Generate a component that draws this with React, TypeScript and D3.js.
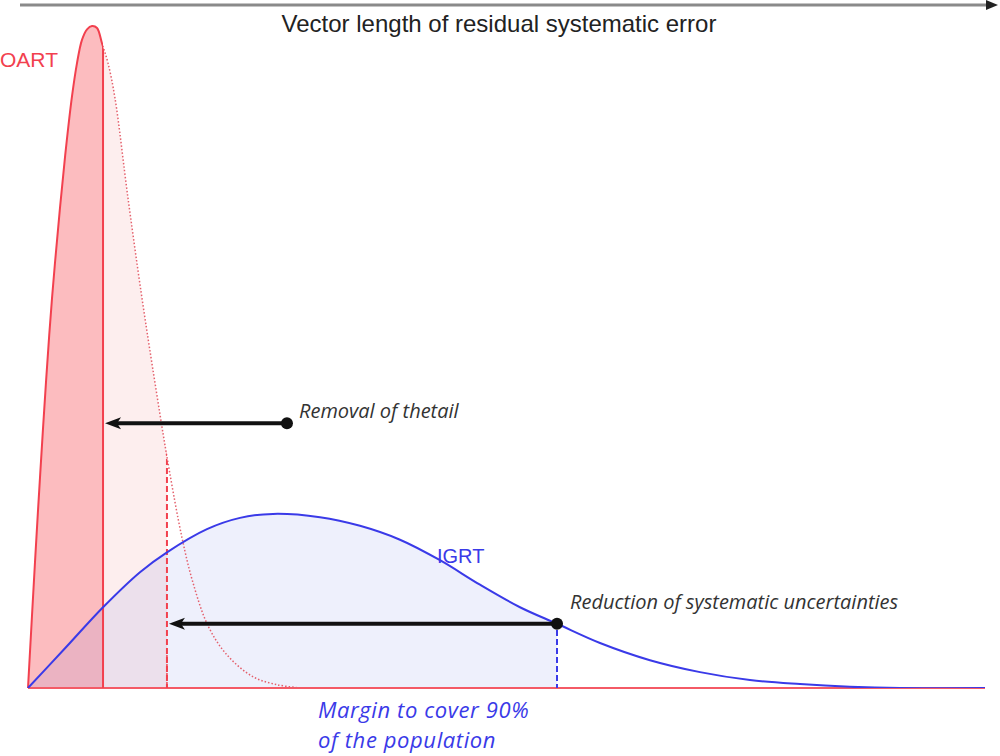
import React from "react";
import * as d3 from "d3";

// OART distribution (vector length units, relative density)
const oartX = [0, 0.073, 0.125, 0.188, 0.251, 0.334, 0.397, 0.460, 0.512, 0.564, 0.617, 0.669, 0.721, 0.773, 0.836, 0.909, 1.045, 1.191, 1.327, 1.463, 1.609, 1.724, 1.881, 2.079, 2.351, 2.602, 2.842];
const oartY = [0, 0.190, 0.317, 0.462, 0.589, 0.725, 0.816, 0.894, 0.944, 0.979, 0.995, 1.0, 0.997, 0.974, 0.944, 0.891, 0.740, 0.589, 0.461, 0.340, 0.227, 0.159, 0.094, 0.050, 0.017, 0.005, 0];
// IGRT distribution
const igrtX = [0, 0.387, 0.784, 1.170, 1.452, 1.870, 2.215, 2.560, 3.051, 3.469, 3.887, 4.305, 4.723, 5.141, 5.528, 5.977, 6.499, 7.022, 7.544, 8.067, 8.589, 9.112, 10];
const igrtY = [0, 0.060, 0.122, 0.175, 0.205, 0.240, 0.257, 0.263, 0.258, 0.245, 0.224, 0.193, 0.156, 0.122, 0.097, 0.068, 0.042, 0.024, 0.012, 0.006, 0.002, 0, 0];

const oartCut = 0.784; // removal of the tail
const oartMargin = 1.452; // 90% margin OART
const igrtMargin = 5.528; // 90% margin IGRT
const removalDot = [2.706, 0.4];

const labels = {
  axis: "Vector length of residual systematic error",
  oart: "OART",
  igrt: "IGRT",
  removal: "Removal of thetail",
  reduction: "Reduction of systematic uncertainties",
  margin1: "Margin to cover 90%",
  margin2: "of the population",
};

export default function App() {
  const W = 1000, H = 756;
  const x = d3.scaleLinear().domain([0, 10]).range([28, 985]);
  const y = d3.scaleLinear().domain([0, 1]).range([688, 26]);

  const oart = oartX.map((v, i) => [v, oartY[i]] as [number, number]);
  const igrt = igrtX.map((v, i) => [v, igrtY[i]] as [number, number]);

  const curve = d3.curveCatmullRom.alpha(0.5);
  const line = d3.line<[number, number]>().x(d => x(d[0])).y(d => y(d[1])).curve(curve);
  const area = d3.area<[number, number]>().x(d => x(d[0])).y0(y(0)).y1(d => y(d[1])).curve(curve);

  const oartLine = line(oart) as string;
  const oartArea = area(oart) as string;
  const igrtLine = line(igrt) as string;
  const igrtArea = area(igrt) as string;

  const red = "#f2404e";
  const blue = "#3a3ae8";
  const sans = "'Liberation Sans', Arial, sans-serif";
  const ital = "'Open Sans', sans-serif";

  const arrowY1 = y(removalDot[1]);
  const arrowY2 = y(igrtY[igrtX.indexOf(igrtMargin)]);

  return (
    <svg width={W} height={H} style={{ position: "absolute", left: 0, top: 0, background: "#fff" }}>
      <defs>
        <clipPath id="cRed"><rect x={0} y={0} width={x(oartCut)} height={H} /></clipPath>
        <clipPath id="cPink"><rect x={x(oartCut)} y={0} width={x(oartMargin) - x(oartCut)} height={H} /></clipPath>
        <clipPath id="cBlue"><rect x={0} y={0} width={x(igrtMargin)} height={H} /></clipPath>
        <clipPath id="cTail"><rect x={x(oartCut)} y={0} width={W} height={H} /></clipPath>
        <clipPath id="cRedArea"><path d={oartArea} /></clipPath>
        <clipPath id="cBlueArea"><path d={igrtArea} /></clipPath>
        <clipPath id="cPlot"><rect x={0} y={0} width={W} height={y(0)} /></clipPath>
      </defs>

      {/* top axis arrow */}
      <line x1={20} x2={988} y1={5} y2={5} stroke="#8a8a8a" strokeWidth={3} />
      <path d={`M986,0 L998,5 L986,10 Z`} fill="#222" />
      <text x={499} y={32} textAnchor="middle" fontFamily={sans} fontSize={24} fill="#222">{labels.axis}</text>

      {/* fills */}
      <g clipPath="url(#cPlot)">
        <path d={oartArea} fill="#fcbcbf" clipPath="url(#cRed)" />
        <path d={oartArea} fill="#fdeeee" clipPath="url(#cPink)" />
        <path d={igrtArea} fill="rgba(85,105,225,0.1)" clipPath="url(#cBlue)" />
      </g>

      {/* baseline */}
      <line x1={x(0)} x2={x(10)} y1={y(0)} y2={y(0)} stroke="#f45a66" strokeWidth={2} />

      {/* OART curve */}
      <g clipPath="url(#cPlot)">
        <path d={oartLine} fill="none" stroke={red} strokeWidth={2} clipPath="url(#cRed)" />
      </g>
      <g clipPath="url(#cPlot)">
        <path d={oartLine} fill="none" stroke="#e4606c" strokeWidth={1.5} strokeDasharray="1.5 2" clipPath="url(#cTail)" />
      </g>
      <g clipPath="url(#cRedArea)">
        <line x1={x(oartCut)} x2={x(oartCut)} y1={0} y2={y(0)} stroke={red} strokeWidth={2} />
        <line x1={x(oartMargin)} x2={x(oartMargin)} y1={0} y2={y(0)} stroke={red} strokeWidth={2} strokeDasharray="6 3" />
      </g>
      <line x1={x(oartMargin)} x2={x(oartMargin)} y1={y(0.05)} y2={y(0)} stroke={red} strokeWidth={1.5} strokeDasharray="6 3" />

      {/* IGRT curve */}
      <g clipPath="url(#cPlot)">
        <path d={igrtLine} fill="none" stroke={blue} strokeWidth={2} />
      </g>
      <g clipPath="url(#cBlueArea)">
        <line x1={x(igrtMargin)} x2={x(igrtMargin)} y1={0} y2={y(0)} stroke={blue} strokeWidth={2} strokeDasharray="6 3" />
      </g>

      {/* arrows */}
      <line x1={x(removalDot[0])} x2={x(oartCut) + 10} y1={arrowY1} y2={arrowY1} stroke="#111" strokeWidth={4} />
      <path d={`M${x(oartCut) + 2},${arrowY1} L${x(oartCut) + 18},${arrowY1 - 6} L${x(oartCut) + 14},${arrowY1} L${x(oartCut) + 18},${arrowY1 + 6} Z`} fill="#111" />
      <circle cx={x(removalDot[0])} cy={arrowY1} r={6} fill="#111" />

      <line x1={x(igrtMargin)} x2={x(oartMargin) + 10} y1={arrowY2} y2={arrowY2} stroke="#111" strokeWidth={4} />
      <path d={`M${x(oartMargin) + 2},${arrowY2} L${x(oartMargin) + 18},${arrowY2 - 6} L${x(oartMargin) + 14},${arrowY2} L${x(oartMargin) + 18},${arrowY2 + 6} Z`} fill="#111" />
      <circle cx={x(igrtMargin)} cy={arrowY2} r={6} fill="#111" />

      {/* labels */}
      <text x={0} y={67} fontFamily={sans} fontSize={21} fill={red}>{labels.oart}</text>
      <text x={437} y={563} fontFamily={sans} fontSize={20} fill={blue}>{labels.igrt}</text>
      <text x={299} y={418} fontFamily={ital} fontStyle="italic" fontSize={20} fill="#333">{labels.removal}</text>
      <text x={570} y={609} fontFamily={ital} fontStyle="italic" fontSize={20} fill="#333">{labels.reduction}</text>
      <text x={318} y={718} fontFamily={ital} fontStyle="italic" fontSize={22} letterSpacing={0.6} fill={blue}>{labels.margin1}</text>
      <text x={318} y={748} fontFamily={ital} fontStyle="italic" fontSize={22} letterSpacing={0.6} fill={blue}>{labels.margin2}</text>
    </svg>
  );
}
